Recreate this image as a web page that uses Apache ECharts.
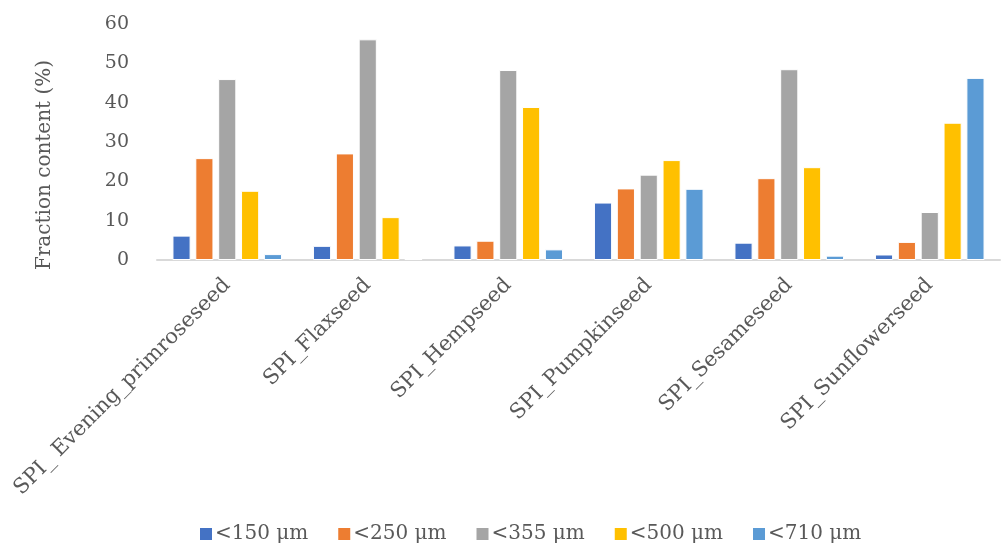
<!DOCTYPE html>
<html>
<head>
<meta charset="utf-8">
<script src="https://cdn.jsdelivr.net/npm/echarts@6/dist/echarts.min.js"></script>
<style>
  html, body { margin: 0; padding: 0; background: #ffffff; }
  #chart { width: 1008px; height: 543px; }
</style>
</head>
<body>
<div id="chart"></div>
<script>
// Seed protein isolate samples
const categories = ['SPI_ Evening_primroseseed', 'SPI_Flaxseed', 'SPI_Hempseed', 'SPI_Pumpkinseed', 'SPI_Sesameseed', 'SPI_Sunflowerseed'];

// Particle size fractions (%)
const lt150 = [6.2, 3.6, 3.7, 14.6, 4.4, 1.4];
const lt250 = [25.9, 27.1, 4.9, 18.2, 20.8, 4.6];
const lt355 = [46.0, 56.1, 48.3, 21.7, 48.5, 12.2];
const lt500 = [17.6, 10.9, 38.9, 25.4, 23.6, 34.9];
const lt710 = [1.5, 0.3, 2.7, 18.1, 1.1, 46.3];

const seriesNames = ['<150 μm', '<250 μm', '<355 μm', '<500 μm', '<710 μm'];
const yTicks = [0, 10, 20, 30, 40, 50, 60];

const colors = ['#4472C4', '#ED7D31', '#A5A5A5', '#FFC000', '#5B9BD5'];
const font = '"DejaVu Serif", "Liberation Serif", serif';
const textColor = '#595959';

const chart = echarts.init(document.getElementById('chart'), null, { renderer: 'canvas' });

const seriesData = [lt150, lt250, lt355, lt500, lt710];

chart.setOption({
  animation: false,
  color: colors,
  grid: { left: 157, right: 8, top: 24, bottom: 283, containLabel: false },
  legend: {
    top: 519,
    left: 193,
    itemWidth: 14,
    itemHeight: 14,
    itemGap: 28,
    icon: 'rect',
    textStyle: { fontFamily: font, fontSize: 20, color: textColor, padding: [0, 0, 0, -3] },
    data: seriesNames
  },
  xAxis: {
    type: 'category',
    data: categories,
    axisLine: { show: true, lineStyle: { color: '#D9D9D9', width: 2 } },
    axisTick: { show: false },
    axisLabel: {
      rotate: 45,
      interval: 0,
      margin: 22,
      fontFamily: font,
      fontSize: 21,
      color: textColor
    }
  },
  yAxis: {
    type: 'value',
    min: yTicks[0],
    max: yTicks[yTicks.length - 1],
    interval: 10,
    name: 'Fraction content (%)',
    nameLocation: 'middle',
    nameGap: 102,
    nameTextStyle: { fontFamily: font, fontSize: 20, color: textColor, padding: [0, 0, 0, -46] },
    axisLine: { show: false },
    axisTick: { show: false },
    splitLine: { show: false },
    axisLabel: { margin: 28, fontFamily: font, fontSize: 19, color: textColor }
  },
  series: seriesData.map((d, i) => ({
    name: seriesNames[i],
    type: 'bar',
    data: d,
    barGap: '26%',
    barCategoryGap: '22%',
    itemStyle: { borderColor: '#ffffff', borderWidth: 1 }
  }))
});
</script>
</body>
</html>
